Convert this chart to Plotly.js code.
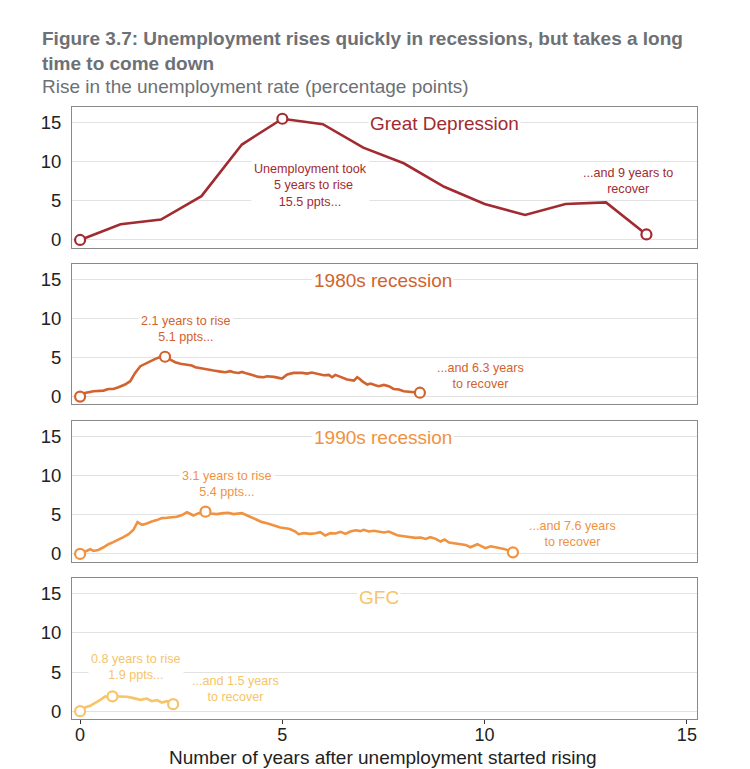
<!DOCTYPE html>
<html>
<head>
<meta charset="utf-8">
<script src="https://cdn.plot.ly/plotly-3.0.1.min.js"></script>
<style>
  html, body { margin: 0; padding: 0; background: #fff; }
  #chart { width: 750px; height: 769px; }
</style>
</head>
<body>
<div id="chart"></div>
<script>
// ---- Data ----
const gdYears = [0, 1, 2, 3, 4, 5, 6, 7, 8, 9, 10, 11, 12, 13, 14];
const gdRise  = [0, 2.0, 2.6, 5.6, 12.2, 15.5, 14.8, 11.8, 9.8, 6.8, 4.6, 3.2, 4.6, 4.8, 0.7];

const r80Years = [0, 0.12, 0.33, 0.58, 0.70, 0.82, 0.95, 1.11, 1.24, 1.36, 1.49, 1.57, 1.69, 1.86, 1.98, 2.1,
  2.23, 2.35, 2.48, 2.64, 2.76, 2.85, 2.97, 3.14, 3.30, 3.47, 3.59, 3.71, 3.79, 3.92, 4.0, 4.13, 4.29, 4.41,
  4.54, 4.62, 4.79, 4.99, 5.12, 5.28, 5.49, 5.61, 5.73, 5.86, 6.02, 6.15, 6.23, 6.31, 6.44, 6.60, 6.77, 6.85,
  6.93, 6.97, 7.10, 7.18, 7.30, 7.38, 7.51, 7.63, 7.75, 7.88, 8.00, 8.13, 8.25, 8.4];
const r80Rise = [0, 0.47, 0.68, 0.77, 0.98, 0.98, 1.2, 1.54, 1.97, 3.03, 3.89, 4.1, 4.4, 4.83, 5.05, 5.1,
  4.74, 4.4, 4.19, 4.06, 3.97, 3.76, 3.67, 3.46, 3.33, 3.2, 3.12, 3.25, 3.12, 3.03, 3.16, 2.94, 2.69, 2.52,
  2.48, 2.61, 2.52, 2.31, 2.82, 3.03, 3.03, 2.94, 3.08, 2.91, 2.73, 2.78, 2.48, 2.78, 2.52, 2.18, 2.05, 2.48,
  2.18, 1.97, 1.54, 1.67, 1.45, 1.33, 1.5, 1.33, 0.98, 0.9, 0.68, 0.64, 0.6, 0.5];

const r90Years = [0, 0.16, 0.25, 0.33, 0.45, 0.58, 0.70, 0.82, 0.95, 1.07, 1.20, 1.32, 1.42, 1.53, 1.65,
  1.77, 1.90, 2.02, 2.15, 2.27, 2.39, 2.52, 2.64, 2.72, 2.80, 2.93, 3.1, 3.22, 3.38, 3.55, 3.67, 3.79, 3.92,
  4.0, 4.13, 4.25, 4.37, 4.50, 4.62, 4.79, 4.95, 5.12, 5.20,
  5.32, 5.40, 5.53, 5.69, 5.82, 5.94, 6.06, 6.19, 6.31, 6.44, 6.56, 6.68, 6.81, 6.93, 7.01, 7.14, 7.26, 7.38,
  7.51, 7.63, 7.76, 7.84, 8.00, 8.17, 8.29, 8.42, 8.54, 8.66, 8.79, 8.91, 9.01, 9.12, 9.24, 9.41, 9.53, 9.65,
  9.82, 10.02, 10.15, 10.31, 10.48, 10.7];
const r90Rise = [0, 0.38, 0.6, 0.38, 0.51, 0.85, 1.24, 1.5, 1.79, 2.14, 2.52, 3.08, 4.06, 3.72, 3.89,
  4.15, 4.32, 4.57, 4.62, 4.7, 4.74, 4.96, 5.34, 5.13, 4.91, 5.21, 5.4, 5.17, 5.09, 5.21, 5.26, 5.09, 5.21,
  5.21, 4.91, 4.66, 4.4, 4.06, 3.93, 3.63, 3.37, 3.25, 3.15,
  2.86, 2.52, 2.65, 2.56, 2.65, 2.78, 2.35, 2.65, 2.61, 2.82, 2.56, 2.86, 3.03, 2.91, 3.08, 2.86, 2.95, 2.86,
  2.74, 2.86, 2.56, 2.39, 2.26, 2.18, 2.05, 2.09, 1.92, 2.14, 1.92, 1.58, 1.84, 1.45, 1.33, 1.24, 1.15, 0.85,
  1.24, 0.73, 0.98, 0.85, 0.64, 0.2];

const gfcYears = [0, 0.12, 0.25, 0.37, 0.50, 0.62, 0.73, 0.8, 0.99, 1.16, 1.32, 1.49, 1.65, 1.77, 1.90, 2.02, 2.15, 2.3];
const gfcRise  = [0, 0.47, 0.68, 1.03, 1.45, 1.88, 1.75, 1.9, 1.88, 1.84, 1.67, 1.45, 1.62, 1.28, 1.41, 1.11, 1.28, 0.9];

const panelNames = ["Great Depression", "1980s recession", "1990s recession", "GFC"];
const riseNotes = ["Unemployment took<br>  5 years to rise<br>15.5 ppts...", "2.1 years to rise<br>5.1 ppts...",
                   "3.1 years to rise<br>5.4 ppts...", "0.8 years to rise<br>1.9 ppts..."];
const recoverNotes = ["...and 9 years to<br>recover", "...and 6.3 years<br>to recover",
                      "...and 7.6 years<br>to recover", "...and 1.5 years<br>to recover"];
const yTicks = [0, 5, 10, 15];
const xTicks = [0, 5, 10, 15];
const xTitle = "Number of years after unemployment started rising";

// ---- Styling ----
const colors = ["#a12b31", "#d2622e", "#f0923f", "#f6c46a"];
const series = [[gdYears, gdRise], [r80Years, r80Rise], [r90Years, r90Rise], [gfcYears, gfcRise]];
const domains = [[0.770, 1.0], [0.514, 0.744], [0.257, 0.487], [0.0, 0.230]];
const namePos = [[9, 14.9], [7.5, 14.9], [7.5, 14.9], [7.4, 14.6]];
const risePos = [[5.69, 6.9], [2.62, 8.7], [3.64, 9.0], [1.39, 5.7]];
const recPos  = [[13.54, 7.6], [9.9, 2.6], [12.18, 2.6], [3.84, 2.9]];
const FONT = "Liberation Sans, Arial, Helvetica, sans-serif";

const traces = [];
const layout = {
  width: 750, height: 769,
  margin: {l: 72, r: 53, t: 107, b: 50},
  paper_bgcolor: "#fff", plot_bgcolor: "#fff",
  showlegend: false,
  font: {family: FONT, color: "#222", size: 18},
  annotations: []
};

series.forEach(([xs, ys], i) => {
  const n = i + 1;
  const xa = n === 1 ? "x" : "x" + n;
  const ya = n === 1 ? "y" : "y" + n;
  traces.push({x: xs, y: ys, xaxis: xa, yaxis: ya, type: "scatter", mode: "lines",
               line: {color: colors[i], width: 2.6}, hoverinfo: "skip"});
  let pk = 0;
  ys.forEach((v, k) => { if (v > ys[pk]) pk = k; });
  const idx = [0, pk, ys.length - 1];
  traces.push({x: idx.map(k => xs[k]), y: idx.map(k => ys[k]), xaxis: xa, yaxis: ya, type: "scatter",
               mode: "markers", marker: {size: 10, color: "#fff", line: {color: colors[i], width: 2.2}},
               hoverinfo: "skip"});

  const isBottom = i === 3;
  layout["xaxis" + (n === 1 ? "" : n)] = {
    domain: [0, 1], anchor: ya, range: [-0.2, 15.25],
    tickvals: xTicks, ticktext: xTicks.map(String),
    showticklabels: isBottom, ticks: isBottom ? "outside" : "", ticklen: 4, tickcolor: "#333",
    ticklabelstandoff: -5,
    showgrid: false, zeroline: false,
    showline: true, mirror: true, linecolor: "#8a8a8a", linewidth: 1,
    tickfont: {size: 18, color: "#222", family: FONT},
    matches: n === 1 ? undefined : "x"
  };
  layout["yaxis" + (n === 1 ? "" : n)] = {
    domain: domains[i], anchor: xa, range: [-1, 17],
    tickvals: yTicks, ticktext: yTicks.map(String),
    showgrid: true, gridcolor: "#e2e2e2", gridwidth: 1, zeroline: false,
    showline: true, mirror: true, linecolor: "#8a8a8a", linewidth: 1,
    ticks: "", ticklabelstandoff: 6, tickfont: {size: 18.5, color: "#222", family: FONT}
  };

  layout.annotations.push({xref: xa, yref: ya, x: namePos[i][0], y: namePos[i][1], text: panelNames[i],
    showarrow: false, bgcolor: "#fff", font: {size: 19, color: colors[i], family: FONT}, borderpad: 1});
  layout.annotations.push({xref: xa, yref: ya, x: risePos[i][0], y: risePos[i][1], text: riseNotes[i],
    showarrow: false, bgcolor: "#fff", align: "center", font: {size: 12.6, color: colors[i], family: FONT},
    borderpad: 2});
  layout.annotations.push({xref: xa, yref: ya, x: recPos[i][0], y: recPos[i][1], text: recoverNotes[i],
    showarrow: false, bgcolor: "rgba(255,255,255,0)", align: "center",
    font: {size: 12.6, color: colors[i], family: FONT}});
});

// X-axis title, title and subtitle (placed in paper coordinates)
layout.annotations.push({xref: "paper", yref: "paper", x: (383 - 72) / 625, xanchor: "center",
  y: -(757 - 719) / 612, yanchor: "middle", showarrow: false, text: xTitle,
  font: {size: 19, color: "#222", family: FONT}});
layout.annotations.push({xref: "paper", yref: "paper", x: -0.0512, xanchor: "left", y: 1 + (107 - 26) / 612,
  yanchor: "top", align: "left", showarrow: false,
  text: "<b>Figure 3.7: Unemployment rises quickly in recessions, but takes a long<br>time to come down</b>",
  font: {size: 19, color: "#6d7075", family: FONT}});
layout.annotations.push({xref: "paper", yref: "paper", x: -0.0512, xanchor: "left", y: 1 + (107 - 74) / 612,
  yanchor: "top", align: "left", showarrow: false,
  text: "Rise in the unemployment rate (percentage points)",
  font: {size: 19, color: "#6d7075", family: FONT}});

Plotly.newPlot("chart", traces, layout, {staticPlot: true, displayModeBar: false});
</script>
</body>
</html>
